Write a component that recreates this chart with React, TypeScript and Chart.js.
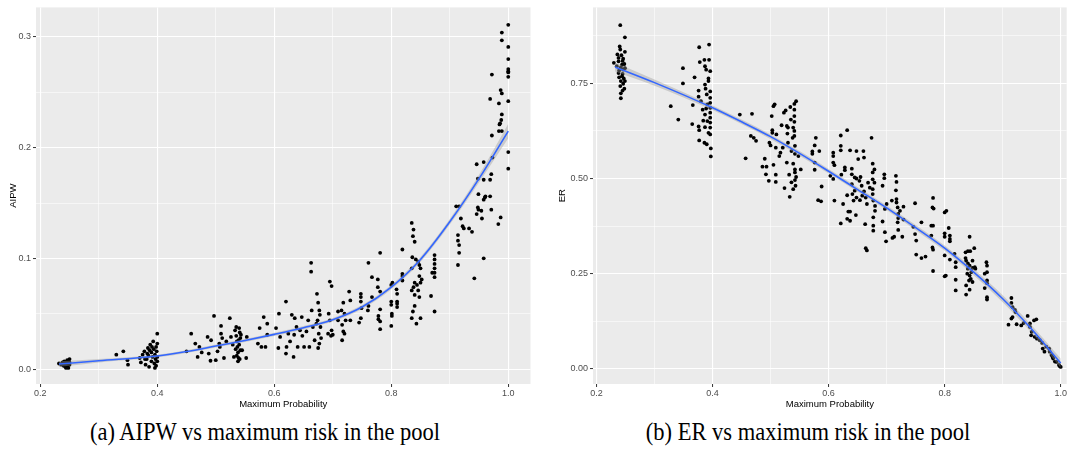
import React, { useEffect, useRef } from "react";
import { Chart, registerables } from "chart.js";
Chart.register(...registerables);

// ---------- tick definitions ----------
const xTickValues = [0.2, 0.3, 0.4, 0.5, 0.6, 0.7, 0.8, 0.9, 1.0];
const xTickLabels = ["0.2", "", "0.4", "", "0.6", "", "0.8", "", "1.0"];
const aipwTickValues = [0, 0.05, 0.1, 0.15, 0.2, 0.25, 0.3];
const aipwTickLabels = ["0.0", "", "0.1", "", "0.2", "", "0.3"];
const erTickValues = [0, 0.125, 0.25, 0.375, 0.5, 0.625, 0.75, 0.875];
const erTickLabels = ["0.00", "", "0.25", "", "0.50", "", "0.75", ""];

// ---------- captions ----------
const captionA = "(a) AIPW vs maximum risk in the pool";
const captionB = "(b) ER vs maximum risk in the pool";

// ---------- AIPW panel data ----------
const aipwPoints: [number, number][] = [
  [0.232, 0.005], [0.236, 0.004], [0.238, 0.006], [0.24, 0.003], [0.241, 0.007], [0.242, 0.005],
  [0.243, 0.002], [0.244, 0.006], [0.245, 0.004], [0.246, 0.008], [0.247, 0.003], [0.248, 0.005],
  [0.249, 0.007], [0.25, 0.004], [0.25, 0.009], [0.248, 0.001], [0.244, 0.001], [0.239, 0.005],
  [0.246, 0.006], [0.25, 0.006],
  [0.33, 0.013], [0.342, 0.016], [0.349, 0.008], [0.35, 0.004],
  [0.37, 0.01], [0.372, 0.006], [0.375, 0.013], [0.378, 0.016], [0.38, 0.004], [0.382, 0.009],
  [0.384, 0.019], [0.385, 0.012], [0.386, 0.002], [0.388, 0.022], [0.39, 0.007], [0.39, 0.015],
  [0.392, 0.011], [0.393, 0.025], [0.394, 0.018], [0.395, 0.005], [0.396, 0.013], [0.397, 0.009],
  [0.398, 0.02], [0.398, 0.003], [0.399, 0.016], [0.4, 0.011], [0.4, 0.007], [0.4, 0.032],
  [0.4, 0.023], [0.387, 0.017], [0.383, 0.014], [0.379, 0.009], [0.391, 0.02], [0.396, 0.001],
  [0.45, 0.016], [0.458, 0.032], [0.465, 0.023], [0.469, 0.011], [0.472, 0.02], [0.476, 0.015],
  [0.486, 0.029], [0.492, 0.026], [0.488, 0.014], [0.491, 0.0075], [0.497, 0.048], [0.5, 0.008],
  [0.503, 0.016], [0.506, 0.023], [0.507, 0.02], [0.509, 0.039], [0.509, 0.032], [0.511, 0.028],
  [0.514, 0.01], [0.518, 0.025], [0.524, 0.046], [0.526, 0.029], [0.529, 0.022], [0.531, 0.011],
  [0.533, 0.035], [0.535, 0.03], [0.536, 0.025], [0.537, 0.02], [0.538, 0.015], [0.539, 0.01],
  [0.54, 0.037], [0.541, 0.033], [0.542, 0.028], [0.534, 0.018], [0.536, 0.012], [0.538, 0.007],
  [0.54, 0.022], [0.542, 0.017], [0.535, 0.038], [0.539, 0.026], [0.541, 0.009], [0.543, 0.031],
  [0.545, 0.017], [0.552, 0.01], [0.553, 0.029],
  [0.572, 0.023], [0.575, 0.037], [0.578, 0.02], [0.582, 0.047], [0.585, 0.02], [0.588, 0.041],
  [0.588, 0.031], [0.603, 0.037], [0.608, 0.05], [0.61, 0.029], [0.607, 0.019], [0.62, 0.061],
  [0.62, 0.014], [0.621, 0.02], [0.624, 0.032], [0.627, 0.025], [0.63, 0.049], [0.633, 0.011],
  [0.634, 0.031], [0.635, 0.046], [0.638, 0.038], [0.64, 0.02], [0.644, 0.035], [0.647, 0.047],
  [0.648, 0.03], [0.651, 0.02], [0.655, 0.034], [0.658, 0.044], [0.66, 0.02], [0.663, 0.096],
  [0.663, 0.088], [0.664, 0.053], [0.666, 0.038], [0.669, 0.026], [0.672, 0.041],
  [0.673, 0.068], [0.675, 0.06], [0.677, 0.053], [0.678, 0.049], [0.674, 0.044], [0.679, 0.038],
  [0.676, 0.032], [0.68, 0.028], [0.677, 0.023], [0.675, 0.019], [0.692, 0.032],
  [0.695, 0.079], [0.698, 0.075], [0.693, 0.05], [0.695, 0.044], [0.698, 0.035], [0.7, 0.031],
  [0.697, 0.03], [0.709, 0.052], [0.709, 0.044], [0.715, 0.053], [0.716, 0.04], [0.718, 0.034],
  [0.716, 0.026], [0.718, 0.06], [0.72, 0.05], [0.72, 0.032], [0.722, 0.044], [0.728, 0.07],
  [0.73, 0.062], [0.73, 0.044],
  [0.745, 0.042], [0.748, 0.068], [0.748, 0.065], [0.748, 0.061], [0.748, 0.046], [0.749, 0.055],
  [0.761, 0.057], [0.76, 0.053], [0.761, 0.096], [0.767, 0.083], [0.767, 0.065],
  [0.777, 0.081], [0.777, 0.074], [0.778, 0.048], [0.778, 0.045], [0.781, 0.105], [0.781, 0.07],
  [0.781, 0.054], [0.781, 0.043], [0.781, 0.036],
  [0.8, 0.076], [0.8, 0.061], [0.8, 0.058], [0.801, 0.05], [0.801, 0.048], [0.8, 0.039],
  [0.802, 0.078], [0.809, 0.072], [0.81, 0.068], [0.81, 0.061], [0.81, 0.059], [0.81, 0.056],
  [0.819, 0.108], [0.819, 0.086], [0.819, 0.084], [0.819, 0.08],
  [0.835, 0.132], [0.838, 0.126], [0.837, 0.12], [0.84, 0.115], [0.836, 0.101], [0.842, 0.099],
  [0.846, 0.097], [0.848, 0.094], [0.835, 0.091], [0.85, 0.091], [0.84, 0.078], [0.844, 0.076],
  [0.835, 0.071], [0.846, 0.071], [0.84, 0.067], [0.848, 0.065], [0.84, 0.057], [0.837, 0.052],
  [0.835, 0.046], [0.85, 0.046], [0.843, 0.041], [0.848, 0.084], [0.852, 0.081], [0.838, 0.074],
  [0.85, 0.078],
  [0.868, 0.066], [0.87, 0.087], [0.874, 0.103], [0.874, 0.099], [0.874, 0.095], [0.874, 0.091],
  [0.874, 0.087], [0.874, 0.083], [0.874, 0.052],
  [0.911, 0.147], [0.916, 0.147], [0.914, 0.121], [0.914, 0.116], [0.916, 0.112], [0.916, 0.105],
  [0.914, 0.094], [0.919, 0.136], [0.922, 0.129], [0.924, 0.127], [0.933, 0.127], [0.938, 0.124],
  [0.942, 0.082],
  [0.946, 0.185], [0.948, 0.172], [0.949, 0.158], [0.948, 0.146], [0.949, 0.144], [0.946, 0.14],
  [0.954, 0.143], [0.955, 0.136], [0.958, 0.187], [0.958, 0.171], [0.958, 0.153], [0.96, 0.155],
  [0.961, 0.156], [0.958, 0.1], [0.969, 0.171], [0.971, 0.176], [0.969, 0.156], [0.971, 0.144],
  [0.973, 0.191], [0.972, 0.211], [0.969, 0.244], [0.972, 0.266], [0.983, 0.131], [0.987, 0.137],
  [0.984, 0.24], [0.986, 0.222], [0.985, 0.221], [0.988, 0.225], [0.989, 0.23], [0.984, 0.215],
  [0.989, 0.215], [0.987, 0.252], [0.989, 0.249], [0.989, 0.304], [0.989, 0.297],
  [1.0, 0.311], [1.0, 0.291], [1.0, 0.28], [1.0, 0.271], [1.0, 0.269], [1.0, 0.264],
  [1.0, 0.242], [1.0, 0.196], [1.0, 0.181], [1.0, 0.268],
];
const aipwSmoothX = [0.232, 0.3, 0.4, 0.45, 0.5, 0.55, 0.6, 0.65, 0.7, 0.75, 0.8, 0.85, 0.9, 0.95, 1.0];
const aipwSmoothY = [0.0045, 0.0075, 0.0118, 0.0158, 0.0208, 0.0258, 0.0313, 0.0373, 0.0445, 0.056, 0.074, 0.099, 0.133, 0.172, 0.215];
const aipwBandLo = [0.002, 0.006, 0.0106, 0.0146, 0.0195, 0.0245, 0.0299, 0.0358, 0.0429, 0.0542, 0.0721, 0.0968, 0.1305, 0.1685, 0.2085];
const aipwBandHi = [0.007, 0.009, 0.013, 0.017, 0.0221, 0.0271, 0.0327, 0.0388, 0.0461, 0.0578, 0.0759, 0.1012, 0.1355, 0.1755, 0.2215];

// ---------- ER panel data ----------
const erPoints: [number, number][] = [
  [0.241, 0.903], [0.249, 0.871], [0.24, 0.847], [0.241, 0.839], [0.249, 0.833], [0.236, 0.826],
  [0.243, 0.824], [0.238, 0.817], [0.246, 0.815], [0.23, 0.804], [0.245, 0.809], [0.248, 0.801],
  [0.235, 0.795], [0.242, 0.792], [0.246, 0.786], [0.238, 0.777], [0.245, 0.775], [0.239, 0.766],
  [0.247, 0.763], [0.242, 0.756], [0.246, 0.749], [0.241, 0.743], [0.248, 0.736], [0.245, 0.731],
  [0.242, 0.724], [0.242, 0.711], [0.239, 0.784], [0.249, 0.79], [0.244, 0.799], [0.238, 0.808],
  [0.244, 0.769], [0.249, 0.756],
  [0.328, 0.69], [0.341, 0.655], [0.349, 0.79], [0.349, 0.75], [0.365, 0.643], [0.366, 0.693],
  [0.369, 0.766], [0.376, 0.731], [0.376, 0.715], [0.376, 0.637], [0.377, 0.627], [0.377, 0.6],
  [0.377, 0.845], [0.378, 0.806], [0.38, 0.703], [0.383, 0.681], [0.384, 0.652], [0.386, 0.812],
  [0.387, 0.795], [0.389, 0.786], [0.387, 0.747], [0.388, 0.736], [0.39, 0.721], [0.387, 0.668],
  [0.387, 0.635], [0.386, 0.594], [0.39, 0.59], [0.391, 0.695], [0.393, 0.756], [0.393, 0.62],
  [0.394, 0.812], [0.394, 0.852], [0.396, 0.782], [0.396, 0.729], [0.396, 0.712], [0.396, 0.699],
  [0.396, 0.686], [0.396, 0.673], [0.396, 0.66], [0.396, 0.647], [0.396, 0.634], [0.396, 0.616],
  [0.397, 0.579], [0.397, 0.558], [0.393, 0.763], [0.391, 0.651], [0.389, 0.684],
  [0.447, 0.668], [0.468, 0.67], [0.457, 0.553], [0.466, 0.612], [0.471, 0.607], [0.475, 0.599],
  [0.505, 0.69], [0.507, 0.695], [0.502, 0.664], [0.503, 0.627], [0.503, 0.62], [0.498, 0.594],
  [0.5, 0.587], [0.49, 0.552], [0.493, 0.531], [0.486, 0.531], [0.492, 0.511], [0.497, 0.494],
  [0.505, 0.536], [0.509, 0.51], [0.509, 0.491], [0.509, 0.581], [0.51, 0.616], [0.515, 0.559],
  [0.517, 0.568], [0.519, 0.64], [0.521, 0.581], [0.523, 0.673], [0.526, 0.679], [0.524, 0.475],
  [0.528, 0.638], [0.529, 0.618], [0.53, 0.634], [0.528, 0.542], [0.53, 0.594], [0.532, 0.51],
  [0.533, 0.452], [0.534, 0.688], [0.535, 0.655], [0.536, 0.572], [0.536, 0.49], [0.538, 0.607],
  [0.539, 0.634], [0.539, 0.539], [0.539, 0.472], [0.541, 0.696], [0.541, 0.681], [0.541, 0.664],
  [0.541, 0.649], [0.541, 0.625], [0.541, 0.612], [0.542, 0.586], [0.542, 0.565], [0.542, 0.524],
  [0.542, 0.516], [0.542, 0.496], [0.543, 0.481], [0.544, 0.703], [0.544, 0.504], [0.548, 0.559],
  [0.552, 0.524],
  [0.578, 0.607], [0.576, 0.587], [0.572, 0.571], [0.572, 0.565], [0.584, 0.572], [0.576, 0.542],
  [0.576, 0.523], [0.588, 0.479], [0.582, 0.443], [0.587, 0.44],
  [0.603, 0.507], [0.608, 0.499], [0.608, 0.568], [0.608, 0.559], [0.608, 0.542], [0.61, 0.535],
  [0.61, 0.442], [0.621, 0.613], [0.621, 0.586], [0.621, 0.574], [0.621, 0.382], [0.622, 0.51],
  [0.625, 0.433], [0.628, 0.529], [0.628, 0.522], [0.632, 0.627], [0.632, 0.394], [0.632, 0.456],
  [0.634, 0.413], [0.637, 0.574], [0.637, 0.413], [0.637, 0.389], [0.64, 0.526], [0.64, 0.511],
  [0.64, 0.485], [0.641, 0.459], [0.643, 0.442], [0.645, 0.503], [0.645, 0.468], [0.647, 0.404],
  [0.648, 0.572], [0.648, 0.5], [0.648, 0.45], [0.651, 0.551], [0.653, 0.494], [0.654, 0.443],
  [0.655, 0.504], [0.657, 0.481], [0.658, 0.455], [0.66, 0.572], [0.661, 0.555], [0.661, 0.466],
  [0.663, 0.38], [0.664, 0.317], [0.666, 0.311], [0.664, 0.45], [0.666, 0.433], [0.668, 0.489],
  [0.671, 0.476], [0.674, 0.607], [0.676, 0.539], [0.676, 0.516], [0.676, 0.498], [0.676, 0.472],
  [0.676, 0.459], [0.677, 0.442], [0.677, 0.398], [0.677, 0.376], [0.677, 0.363], [0.679, 0.489],
  [0.68, 0.428], [0.68, 0.415], [0.679, 0.524],
  [0.693, 0.481], [0.693, 0.387], [0.696, 0.511], [0.696, 0.501], [0.697, 0.42], [0.697, 0.359],
  [0.699, 0.335], [0.7, 0.433], [0.709, 0.442], [0.71, 0.344], [0.713, 0.347], [0.716, 0.507],
  [0.717, 0.491], [0.716, 0.469], [0.717, 0.446], [0.717, 0.437], [0.719, 0.424], [0.72, 0.407],
  [0.72, 0.396], [0.719, 0.385], [0.72, 0.365], [0.723, 0.415], [0.727, 0.347], [0.729, 0.426],
  [0.729, 0.392],
  [0.749, 0.435], [0.746, 0.373], [0.749, 0.354], [0.751, 0.337], [0.751, 0.3],
  [0.76, 0.385], [0.76, 0.291], [0.767, 0.295], [0.779, 0.424], [0.781, 0.421], [0.78, 0.449],
  [0.777, 0.376], [0.78, 0.376], [0.777, 0.35], [0.779, 0.319], [0.78, 0.313], [0.78, 0.257],
  [0.8, 0.411], [0.803, 0.415], [0.8, 0.356], [0.8, 0.347], [0.807, 0.37], [0.809, 0.35],
  [0.809, 0.341], [0.809, 0.335], [0.8, 0.298], [0.802, 0.245], [0.8, 0.243], [0.809, 0.287],
  [0.817, 0.302], [0.819, 0.28], [0.819, 0.267], [0.819, 0.234], [0.819, 0.206],
  [0.836, 0.306], [0.84, 0.309], [0.843, 0.347], [0.844, 0.309], [0.851, 0.317], [0.836, 0.291],
  [0.837, 0.284], [0.84, 0.277], [0.843, 0.271], [0.848, 0.265], [0.852, 0.267], [0.853, 0.263],
  [0.84, 0.263], [0.839, 0.25], [0.843, 0.245], [0.845, 0.236], [0.848, 0.228], [0.842, 0.232],
  [0.837, 0.219], [0.843, 0.208], [0.837, 0.195], [0.848, 0.284], [0.846, 0.254],
  [0.869, 0.25], [0.872, 0.28], [0.873, 0.271], [0.873, 0.254], [0.873, 0.232], [0.873, 0.225],
  [0.869, 0.212], [0.873, 0.188], [0.873, 0.182],
  [0.915, 0.186], [0.915, 0.173], [0.917, 0.162], [0.921, 0.155], [0.922, 0.149], [0.917, 0.136],
  [0.915, 0.132], [0.91, 0.116], [0.924, 0.117], [0.932, 0.114], [0.936, 0.12], [0.943, 0.139],
  [0.947, 0.119], [0.947, 0.11], [0.95, 0.097], [0.949, 0.088], [0.954, 0.127], [0.958, 0.13],
  [0.955, 0.084], [0.959, 0.079], [0.964, 0.075], [0.968, 0.068], [0.969, 0.053], [0.972, 0.045],
  [0.975, 0.058], [0.981, 0.045], [0.984, 0.036], [0.987, 0.027], [0.99, 0.019], [0.993, 0.018],
  [0.997, 0.01], [0.998, 0.007], [1.0, 0.005], [0.98, 0.053], [0.986, 0.031],
];
const erSmoothX = [0.232, 0.3, 0.4, 0.45, 0.5, 0.55, 0.6, 0.65, 0.7, 0.75, 0.8, 0.85, 0.9, 0.95, 1.0];
const erSmoothY = [0.793, 0.752, 0.686, 0.649, 0.61, 0.566, 0.519, 0.471, 0.423, 0.371, 0.317, 0.254, 0.184, 0.104, 0.015];
const erBandLo = [0.781, 0.744, 0.68, 0.643, 0.604, 0.56, 0.513, 0.465, 0.417, 0.364, 0.31, 0.246, 0.175, 0.094, 0.003];
const erBandHi = [0.805, 0.76, 0.692, 0.655, 0.616, 0.572, 0.525, 0.477, 0.429, 0.378, 0.324, 0.262, 0.193, 0.114, 0.027];

const SANS = "'Liberation Sans', Arial, Helvetica, sans-serif";

const panelBg = {
  id: "panelBg",
  beforeDraw(chart: any) {
    const { ctx, chartArea: a } = chart;
    ctx.save();
    ctx.fillStyle = "#EBEBEB";
    ctx.fillRect(a.left, a.top, a.right - a.left, a.bottom - a.top);
    ctx.restore();
  },
};

type PanelSpec = {
  points: [number, number][];
  sx: number[];
  sy: number[];
  lo: number[];
  hi: number[];
  xMin: number;
  xMax: number;
  yMin: number;
  yMax: number;
  yTickValues: number[];
  yTickLabels: string[];
  yTitle: string;
  yAxisWidth: number;
  yTitlePad: number;
  padRight: number;
};

function makeConfig(p: PanelSpec): any {
  const toXY = (ys: number[]) => p.sx.map((x, i) => ({ x, y: ys[i] }));
  return {
    type: "scatter",
    data: {
      datasets: [
        {
          data: p.points.map(([x, y]) => ({ x, y })),
          pointRadius: 1.9,
          pointBackgroundColor: "#000000",
          pointBorderWidth: 0,
          order: 3,
        },
        {
          type: "line",
          data: toXY(p.hi),
          borderWidth: 0,
          borderColor: "rgba(0,0,0,0)",
          pointRadius: 0,
          fill: false,
          cubicInterpolationMode: "monotone",
          order: 2,
        },
        {
          type: "line",
          data: toXY(p.lo),
          borderWidth: 0,
          borderColor: "rgba(0,0,0,0)",
          backgroundColor: "rgba(153,153,153,0.4)",
          pointRadius: 0,
          fill: "-1",
          cubicInterpolationMode: "monotone",
          order: 2,
        },
        {
          type: "line",
          data: toXY(p.sy),
          borderColor: "#3366FF",
          borderWidth: 1.6,
          pointRadius: 0,
          fill: false,
          cubicInterpolationMode: "monotone",
          order: 1,
        },
      ],
    },
    options: {
      animation: false,
      responsive: false,
      devicePixelRatio: 1,
      events: [],
      layout: { padding: { top: 6, right: p.padRight, left: 0, bottom: 0 } },
      plugins: { legend: { display: false }, tooltip: { enabled: false } },
      scales: {
        x: {
          type: "linear",
          min: p.xMin,
          max: p.xMax,
          afterBuildTicks: (axis: any) => {
            axis.ticks = xTickValues.map((v) => ({ value: v }));
          },
          afterFit: (s: any) => {
            s.height = 31;
          },
          border: { display: false },
          grid: {
            color: "#FFFFFF",
            lineWidth: (c: any) => (xTickLabels[c.index] ? 1.1 : 0.55),
            tickColor: (c: any) => (xTickLabels[c.index] ? "#333333" : "rgba(0,0,0,0)"),
            tickLength: 3,
            tickWidth: 1,
          },
          ticks: {
            autoSkip: false,
            maxRotation: 0,
            padding: 1,
            color: "#4D4D4D",
            font: { family: SANS, size: 9 },
            callback: (_v: any, i: number) => xTickLabels[i],
          },
          title: {
            display: true,
            text: "Maximum Probability",
            color: "#000000",
            font: { family: SANS, size: 9.5 },
            padding: { top: 0, bottom: 5 },
          },
        },
        y: {
          type: "linear",
          min: p.yMin,
          max: p.yMax,
          afterBuildTicks: (axis: any) => {
            axis.ticks = p.yTickValues.map((v) => ({ value: v }));
          },
          afterFit: (s: any) => {
            s.width = p.yAxisWidth;
          },
          border: { display: false },
          grid: {
            color: "#FFFFFF",
            lineWidth: (c: any) => (p.yTickLabels[c.index] ? 1.1 : 0.55),
            tickColor: (c: any) => (p.yTickLabels[c.index] ? "#333333" : "rgba(0,0,0,0)"),
            tickLength: 3,
            tickWidth: 1,
          },
          ticks: {
            autoSkip: false,
            padding: 2,
            color: "#4D4D4D",
            font: { family: SANS, size: 9 },
            callback: (_v: any, i: number) => p.yTickLabels[i],
          },
          title: {
            display: true,
            text: p.yTitle,
            color: "#000000",
            font: { family: SANS, size: 9.5 },
            padding: { top: p.yTitlePad, bottom: 0 },
          },
        },
      },
    },
    plugins: [panelBg],
  };
}

function Panel(props: { spec: PanelSpec; left: number; width: number }) {
  const ref = useRef<HTMLCanvasElement | null>(null);
  useEffect(() => {
    if (!ref.current) return;
    const chart = new Chart(ref.current, makeConfig(props.spec));
    return () => chart.destroy();
  }, []);
  return (
    <canvas
      ref={ref}
      width={props.width}
      height={415}
      style={{ position: "absolute", left: props.left, top: 0, width: props.width, height: 415 }}
    />
  );
}

const aipwSpec: PanelSpec = {
  points: aipwPoints,
  sx: aipwSmoothX,
  sy: aipwSmoothY,
  lo: aipwBandLo,
  hi: aipwBandHi,
  xMin: 0.1927,
  xMax: 1.038,
  yMin: -0.0135,
  yMax: 0.3267,
  yTickValues: aipwTickValues,
  yTickLabels: aipwTickLabels,
  yTitle: "AIPW",
  yAxisWidth: 36,
  yTitlePad: 7.3,
  padRight: 5.5,
};

const erSpec: PanelSpec = {
  points: erPoints,
  sx: erSmoothX,
  sy: erSmoothY,
  lo: erBandLo,
  hi: erBandHi,
  xMin: 0.194,
  xMax: 1.0103,
  yMin: -0.04,
  yMax: 0.9497,
  yTickValues: erTickValues,
  yTickLabels: erTickLabels,
  yTitle: "ER",
  yAxisWidth: 53,
  yTitlePad: 16.3,
  padRight: 6.3,
};

const captionStyle: React.CSSProperties = {
  position: "absolute",
  top: 417,
  width: 500,
  textAlign: "center",
  fontFamily: "'Liberation Serif', 'Times New Roman', serif",
  fontSize: 25,
  color: "#000000",
  whiteSpace: "nowrap",
  lineHeight: "30px",
  transform: "scaleX(0.9)",
  transformOrigin: "50% 50%",
};

export default function App() {
  return (
    <div style={{ position: "absolute", left: 0, top: 0, width: 1073, height: 459, background: "#FFFFFF", overflow: "hidden" }}>
      <Panel spec={aipwSpec} left={0} width={536} />
      <Panel spec={erSpec} left={540} width={533} />
      <div style={{ ...captionStyle, left: 265 - 250 }}>{captionA}</div>
      <div style={{ ...captionStyle, left: 808 - 250 }}>{captionB}</div>
    </div>
  );
}
